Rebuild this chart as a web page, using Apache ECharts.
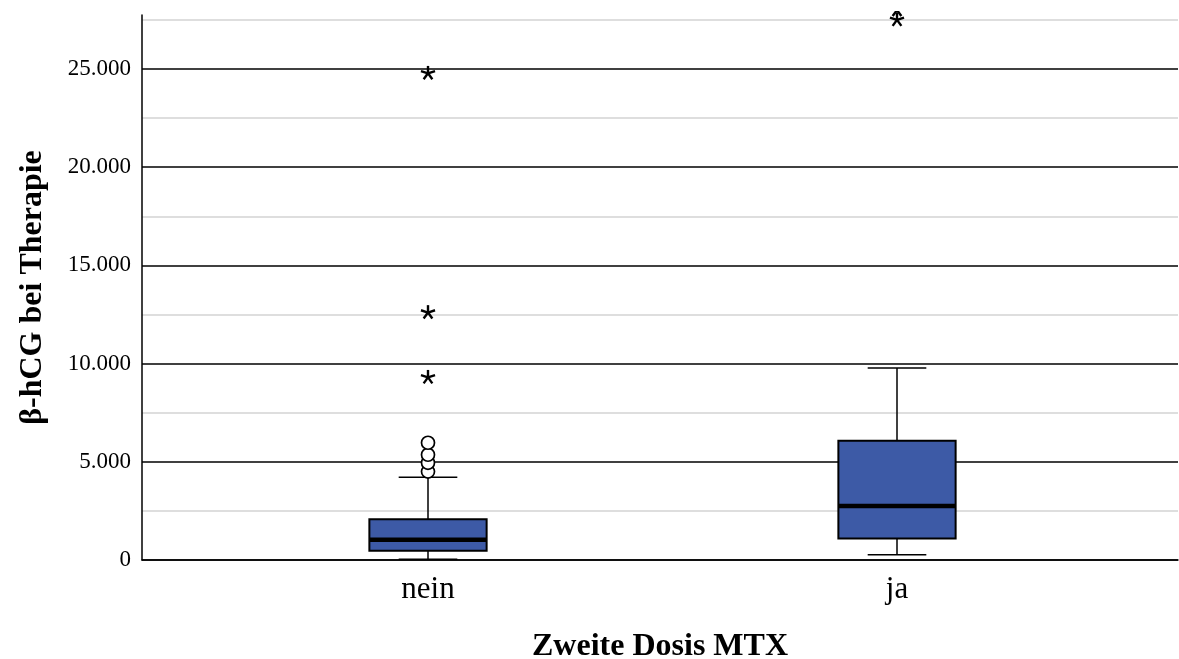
<!DOCTYPE html>
<html>
<head>
<meta charset="utf-8">
<title>β-hCG bei Therapie nach Zweite Dosis MTX</title>
<script src="https://cdn.jsdelivr.net/npm/echarts@6/dist/echarts.min.js"></script>
<style>
  html, body { margin: 0; padding: 0; background: #fff; }
  #chart { width: 1179px; height: 659px; }
</style>
</head>
<body>
<div id="chart"></div>
<script>
// Groups on the x axis
const categories = ['nein', 'ja'];

// Box statistics per group (β-hCG)
const whiskerLow  = [40, 270];
const quartile1   = [470, 1100];
const medians     = [1030, 2750];
const quartile3   = [2070, 6070];
const whiskerHigh = [4210, 9780];

// Outliers (circles) and extreme values (stars) per group
const outliersNein = [4500, 4950, 5360, 5970];
const outliersJa   = [];
const extremesNein = [9300, 12600, 24780];
const extremesJa   = [27500, 28000];

// Y axis ticks
const yTickStep = 5000;
const yMinorStep = 2500;
const yMax = 27750;

const FONT = '"Liberation Serif", "Times New Roman", serif';
const BOX_FILL = '#3d5aa6';

function formatThousands(v) {
  const s = String(Math.round(v));
  return s.replace(/\B(?=(\d{3})+(?!\d))/g, '.');
}

const boxData = categories.map((c, i) => [i, whiskerLow[i], quartile1[i], medians[i], quartile3[i], whiskerHigh[i]]);
const circleData = [];
outliersNein.forEach(v => circleData.push([0, v]));
outliersJa.forEach(v => circleData.push([1, v]));
const starData = [];
extremesNein.forEach(v => starData.push([0, v]));
extremesJa.forEach(v => starData.push([1, v]));

const chart = echarts.init(document.getElementById('chart'), null, { renderer: 'canvas' });

chart.setOption({
  animation: false,
  backgroundColor: '#ffffff',
  grid: [
    // frame with axes and grid lines
    { left: 142, right: 1, top: 15, bottom: 99, outerBoundsMode: 'none', containLabel: false },
    // plotting area for the two groups
    { left: 193.5, right: 47.5, top: 11, bottom: 99, outerBoundsMode: 'none', containLabel: false }
  ],
  xAxis: [
    {
      gridIndex: 0, type: 'value', min: 0, max: 1,
      axisLine: { show: true, lineStyle: { color: '#000', width: 1.5 } },
      axisTick: { show: false }, axisLabel: { show: false }, splitLine: { show: false },
      name: 'Zweite Dosis MTX', nameLocation: 'middle', nameGap: 71,
      nameTextStyle: { fontFamily: FONT, fontSize: 32, fontWeight: 'bold', color: '#000' }
    },
    {
      gridIndex: 1, type: 'category', data: categories,
      axisLine: { show: false }, axisTick: { show: false }, splitLine: { show: false },
      axisLabel: { fontFamily: FONT, fontSize: 31, color: '#000', margin: 14 }
    }
  ],
  yAxis: [
    {
      gridIndex: 0, type: 'value', min: 0, max: yMax, interval: yMinorStep,
      axisLine: { show: true, lineStyle: { color: '#000', width: 1.5 } },
      axisTick: { show: false },
      axisLabel: {
        fontFamily: FONT, fontSize: 23, color: '#000', margin: 11,
        formatter: v => (v % yTickStep === 0 ? formatThousands(v) : '')
      },
      splitLine: {
        show: true, showMinLine: true, showMaxLine: false,
        lineStyle: { color: ['#000000', '#d3d3d3'], width: 1.5 }
      },
      name: 'β-hCG bei Therapie', nameLocation: 'middle', nameGap: 93,
      nameTextStyle: { fontFamily: FONT, fontSize: 32, fontWeight: 'bold', color: '#000' }
    },
    {
      gridIndex: 1, type: 'value', min: 0, max: yMax * 549 / 545, show: false,
      splitLine: { show: false }
    }
  ],
  series: [
    {
      name: 'box', type: 'custom', xAxisIndex: 1, yAxisIndex: 1,
      data: boxData,
      encode: { x: 0, y: [1, 2, 3, 4, 5] },
      renderItem: function (params, api) {
        const ci = api.value(0);
        const lo = api.coord([ci, api.value(1)]);
        const q1 = api.coord([ci, api.value(2)]);
        const med = api.coord([ci, api.value(3)]);
        const q3 = api.coord([ci, api.value(4)]);
        const hi = api.coord([ci, api.value(5)]);
        const band = api.size([1, 0])[0];
        const bw = band * 0.25;
        const cw = bw / 2;
        const x = lo[0];
        const line = { stroke: '#000', lineWidth: 1.5 };
        return {
          type: 'group',
          children: [
            { type: 'line', shape: { x1: x, y1: hi[1], x2: x, y2: q3[1] }, style: line },
            { type: 'line', shape: { x1: x, y1: q1[1], x2: x, y2: lo[1] }, style: line },
            { type: 'line', shape: { x1: x - cw / 2, y1: hi[1], x2: x + cw / 2, y2: hi[1] }, style: line },
            { type: 'line', shape: { x1: x - cw / 2, y1: lo[1], x2: x + cw / 2, y2: lo[1] }, style: line },
            { type: 'rect', shape: { x: x - bw / 2, y: q3[1], width: bw, height: q1[1] - q3[1] },
              style: { fill: BOX_FILL, stroke: '#000', lineWidth: 2 } },
            { type: 'line', shape: { x1: x - bw / 2, y1: med[1], x2: x + bw / 2, y2: med[1] },
              style: { stroke: '#000', lineWidth: 4.5 } }
          ]
        };
      }
    },
    {
      name: 'Ausreißer', type: 'scatter', xAxisIndex: 1, yAxisIndex: 1,
      data: circleData, symbol: 'circle', symbolSize: 13,
      itemStyle: { color: '#ffffff', borderColor: '#000', borderWidth: 1.7, opacity: 1 },
      z: 5
    },
    {
      name: 'Extremwerte', type: 'custom', xAxisIndex: 1, yAxisIndex: 1,
      data: starData, clip: true, z: 6,
      encode: { x: 0, y: 1 },
      renderItem: function (params, api) {
        const p = api.coord([api.value(0), api.value(1)]);
        const r = 7.4;
        const children = [];
        for (let k = 0; k < 5; k++) {
          const a = -Math.PI / 2 + k * 2 * Math.PI / 5;
          children.push({
            type: 'line',
            shape: { x1: p[0], y1: p[1], x2: p[0] + r * Math.cos(a), y2: p[1] + r * Math.sin(a) },
            style: { stroke: '#000', lineWidth: 2.4 }
          });
        }
        return { type: 'group', children: children };
      }
    }
  ]
});
</script>
</body>
</html>
